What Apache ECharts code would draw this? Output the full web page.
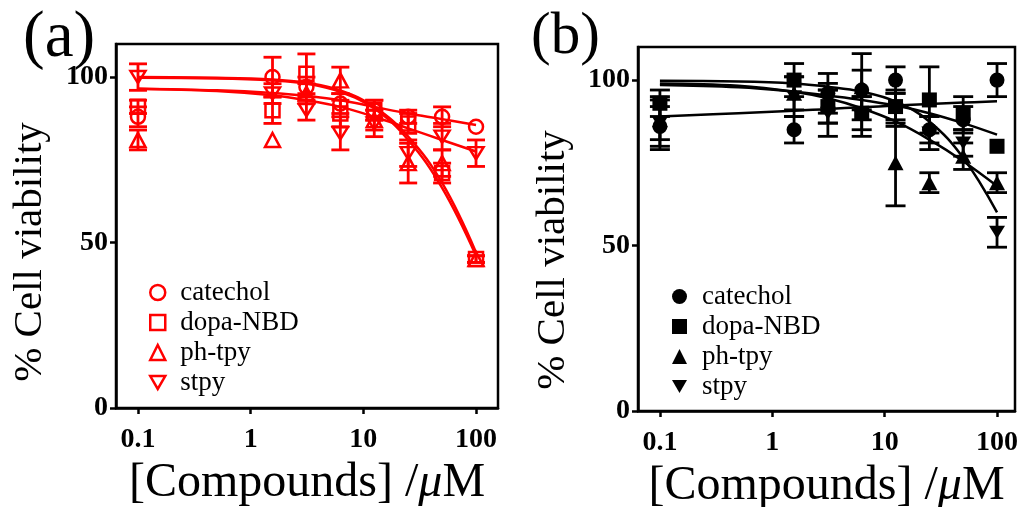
<!DOCTYPE html>
<html><head><meta charset="utf-8">
<script src="https://cdn.jsdelivr.net/npm/echarts@6/dist/echarts.min.js"></script>
<style>html,body{margin:0;padding:0;background:#fff}#c{width:1022px;height:507px}</style>
</head><body><div id="c"></div>
<script>
const conc = [0.1, 1.5625, 3.125, 6.25, 12.5, 25, 50, 100];
const fitX = [0.1, 0.5, 1.5625, 3.125, 6.25, 12.5, 25, 50, 100];
const names = ['catechol', 'dopa-NBD', 'ph-tpy', 'stpy'];
const xTicks = [0.1, 1, 10, 100];
const yTicks = [0, 50, 100];

// Panel (a) measured values and error bars
const catA = [88, 100, 97, 92, 90, 88, 88, 85];
const catAErr = [3, 6, 3, 3, 3, 2, 3, 0];
const dopaA = [91, 90, 101, 89, 90, 86, 71, 45];
const dopaAErr = [2, 4, 6, 4, 3, 3, 3, 1];
const phA = [81, 81, 95, 99, 87, 74, 74, 45];
const phAErr = [3, 0, 3, 4, 3, 6, 4, 1];
const stpyA = [100, 95, 90, 83, 86, 77, 82, 77];
const stpyAErr = [4, 3, 3, 5, 4, 4, 4, 4];
// Panel (a) fitted curves (read at fitX)
const catAFit = [96.5, 96, 95.2, 94.3, 93, 91, 89, 87.3, 85.5];
const dopaAFit = [100, 99.8, 99.3, 98.3, 96, 91, 82, 68, 47];
const phAFit = [99.8, 99.6, 99, 98, 95.5, 90.5, 81, 66.5, 46];
const stpyAFit = [96.5, 95.8, 94.5, 93, 91, 88, 84.5, 81, 77.5];

// Panel (b) measured values and error bars
const catB = [86, 85, 96, 97, 100, 85, 88, 100];
const catBErr = [6, 4, 6, 6, 4, 4, 4, 5];
const dopaB = [93, 100, 92, 90, 92, 94, 90, 80];
const dopaBErr = [4, 5, 5, 5, 5, 10, 5, 0];
const phB = [88, 96, 93, 98, 75, 69, 77, 69];
const phBErr = [6, 5, 6, 10, 13, 3, 4, 3];
const stpyB = [87, 95, 90, 89, 91, 84, 81, 54];
const stpyBErr = [8, 6, 7, 6, 5, 5, 4, 4.5];
// Panel (b) fitted curves
const catBFit = [89, 90, 90.7, 91.3, 91.8, 92.3, 92.8, 93.2, 93.6];
const dopaBFit = [98.5, 97.8, 96.5, 95.3, 94, 92.3, 90, 87, 83.5];
const phBFit = [99, 98.3, 96.5, 94.5, 91.5, 87.5, 82, 75.5, 68];
const stpyBFit = [99.8, 99.6, 99, 98, 96.5, 93.5, 87.5, 76.5, 60];

const FONT = "'Liberation Serif', 'Times New Roman', serif";
const RED = '#ff0000', BLACK = '#000000';
const downTri = 'path://M0,0L10,0L5,8.66Z';
const symbols = ['circle', 'rect', 'triangle', downTri];

const panels = [
  {vals: [catA, dopaA, phA, stpyA], errs: [catAErr, dopaAErr, phAErr, stpyAErr],
   fits: [catAFit, dopaAFit, phAFit, stpyAFit], color: RED, hollow: true, tag: 'a', size: 14, cap: 9},
  {vals: [catB, dopaB, phB, stpyB], errs: [catBErr, dopaBErr, phBErr, stpyBErr],
   fits: [catBFit, dopaBFit, phBFit, stpyBFit], color: BLACK, hollow: false, tag: 'b', size: 15, cap: 10}
];

const series = [];
panels.forEach((p, pi) => {
  names.forEach((n, si) => {
    series.push({
      type: 'line', name: n + '-fit|' + p.tag, xAxisIndex: pi, yAxisIndex: pi,
      data: fitX.map((x, i) => [x, p.fits[si][i]]), smooth: 0.4, showSymbol: false,
      lineStyle: {color: p.color, width: 2.5}, silent: true, z: 2
    });
    const col = p.color, w = p.cap;
    series.push({
      type: 'custom', name: n + '-err|' + p.tag, xAxisIndex: pi, yAxisIndex: pi, silent: true, z: 3,
      data: conc.map((c, i) => [c, p.vals[si][i] - p.errs[si][i], p.vals[si][i] + p.errs[si][i]])
                .filter(d => d[2] - d[1] > 0),
      encode: {x: 0, y: [1, 2]},
      renderItem: (params, api) => {
        const lo = api.coord([api.value(0), api.value(1)]);
        const hi = api.coord([api.value(0), api.value(2)]);
        const st = {stroke: col, lineWidth: 2.8};
        return {type: 'group', children: [
          {type: 'line', shape: {x1: lo[0], y1: lo[1], x2: hi[0], y2: hi[1]}, style: st},
          {type: 'line', shape: {x1: lo[0] - w, y1: lo[1], x2: lo[0] + w, y2: lo[1]}, style: st},
          {type: 'line', shape: {x1: hi[0] - w, y1: hi[1], x2: hi[0] + w, y2: hi[1]}, style: st}
        ]};
      }
    });
    series.push({
      type: 'scatter', name: n + '|' + p.tag, xAxisIndex: pi, yAxisIndex: pi, z: 4,
      data: conc.map((c, i) => [c, p.vals[si][i]]),
      symbol: symbols[si], symbolSize: si >= 2 ? [p.size + 1, p.size] : p.size, symbolKeepAspect: true,
      itemStyle: p.hollow ? {color: 'rgba(255,255,255,0)', borderColor: col, borderWidth: 2.5, opacity: 1}
                          : {color: col, borderColor: col, borderWidth: 0, opacity: 1}
    });
  });
});

const grids = [
  {left: 116, top: 44, width: 382, height: 364},
  {left: 638, top: 47, width: 377, height: 364}
];

function xAxisFor(gi) {
  return {
    type: 'log', logBase: 10, gridIndex: gi,
    min: Math.pow(10, -1.195), max: Math.pow(10, gi === 0 ? 2.195 : 2.16),
    name: '[Compounds] /{i|μ}M', nameLocation: 'middle', nameGap: 48,
    nameTextStyle: {fontFamily: FONT, fontSize: 48, color: '#000',
      rich: {i: {fontFamily: FONT, fontSize: 48, fontStyle: 'italic', color: '#000'}}},
    axisLine: {show: true, lineStyle: {color: '#000', width: 2.5}},
    axisTick: {show: true, length: 6, inside: false, customValues: xTicks, lineStyle: {color: '#000', width: 2.5}},
    axisLabel: {customValues: xTicks, margin: 18, fontFamily: FONT, fontWeight: 'bold', fontSize: 28, color: '#000',
      formatter: v => String(v)},
    splitLine: {show: false}, minorTick: {show: false}
  };
}
function yAxisFor(gi) {
  return {
    type: 'value', gridIndex: gi, min: 0, max: 110, interval: 50,
    axisLine: {show: true, lineStyle: {color: '#000', width: 2.5}},
    axisTick: {show: true, length: 6, customValues: yTicks, lineStyle: {color: '#000', width: 2.5}},
    axisLabel: {customValues: yTicks, margin: 8, fontFamily: FONT, fontWeight: 'bold', fontSize: 28, color: '#000'},
    splitLine: {show: false}
  };
}

function legendFor(pi, left, top) {
  const p = panels[pi];
  return {
    orient: 'vertical', left: left, top: top, itemWidth: 15, itemHeight: 15, itemGap: 3,
    selectedMode: false,
    data: names.map(n => n + '|' + p.tag),
    formatter: name => name.split('|')[0],
    itemStyle: p.hollow ? {color: 'rgba(255,255,255,0)', borderColor: p.color, borderWidth: 2.5, opacity: 1}
                        : {color: '#000', borderWidth: 0, opacity: 1},
    textStyle: {fontFamily: FONT, fontSize: 27, lineHeight: 27, color: '#000', padding: [0, 0, 0, 10]}
  };
}

function yTitle(x, y) {
  return {type: 'text', x: x, y: y, rotation: Math.PI / 2,
    style: {text: '% Cell viability', font: "41px 'Liberation Serif', 'Times New Roman', serif",
      fill: '#000', align: 'center', verticalAlign: 'middle'}};
}

const chart = echarts.init(document.getElementById('c'), null, {renderer: 'canvas'});
chart.setOption({
  animation: false,
  backgroundColor: '#fff',
  title: [
    {text: '(a)', left: 18, top: 1, textStyle: {fontFamily: FONT, fontSize: 65, fontWeight: 'normal', color: '#000'}},
    {text: '(b)', left: 526, top: 3, textStyle: {fontFamily: FONT, fontSize: 59, fontWeight: 'normal', color: '#000'}}
  ],
  grid: grids.map(g => Object.assign({show: true, borderColor: '#000', borderWidth: 2.5,
    backgroundColor: 'transparent', containLabel: false, outerBoundsMode: 'none'}, g)),
  xAxis: [xAxisFor(0), xAxisFor(1)],
  yAxis: [yAxisFor(0), yAxisFor(1)],
  legend: [legendFor(0, 144, 274), legendFor(1, 667, 278)],
  graphic: [yTitle(30, 252), yTitle(553, 260)],
  series: series
});
</script></body></html>
